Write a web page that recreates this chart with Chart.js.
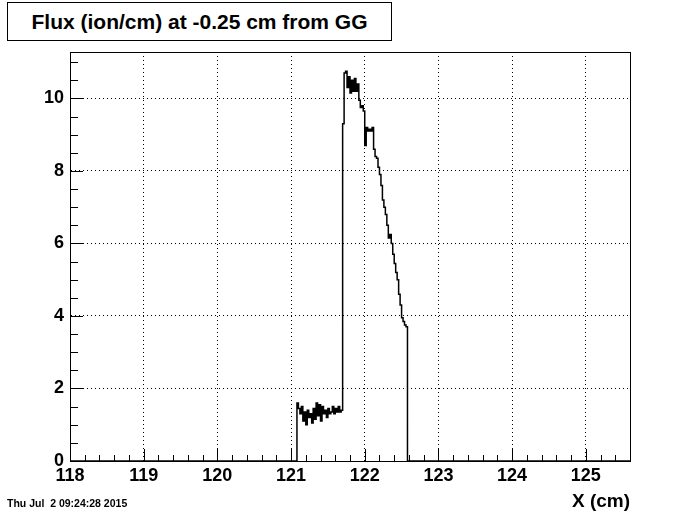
<!DOCTYPE html>
<html>
<head>
<meta charset="utf-8">
<script src="https://cdn.jsdelivr.net/npm/chart.js@4.4.0/dist/chart.umd.min.js"></script>
<style>
  body { margin: 0; background: #fff; }
  #wrap { position: relative; width: 700px; height: 514px; }
  #titlebox {
    position: absolute; left: 7px; top: 2px; width: 383px; height: 37px;
    border: 1px solid #000; background: #fff;
    font: bold 21px "Liberation Sans", Arial, sans-serif;
    text-align: center; line-height: 38px;
  }
  #stamp {
    position: absolute; left: 7px; top: 497px;
    font: bold 10.5px "Liberation Sans", Arial, sans-serif;
  }
</style>
</head>
<body>
<div id="wrap">
  <canvas id="flux-ctx" width="700" height="514"></canvas>
  <div id="titlebox">Flux (ion/cm) at -0.25 cm from GG</div>
  <div id="stamp">Thu Jul&nbsp; 2 09:24:28 2015</div>
</div>
<script>
// DATA
const X_MIN = 118;
const X_MAX = 125.6;
const Y_MAX = 11.28;
const X_TICKS = [118, 119, 120, 121, 122, 123, 124, 125];
const Y_TICKS = [0, 2, 4, 6, 8, 10];

// histogram: first filled bin low edge, bin width, contents
const BIN_START = 121.08;
const BIN_WIDTH = 0.02;
const FLUX = [
  1.6, 1.45, 1.3, 1.5, 1.1, 1.35, 1.0, 1.4, 1.2, 1.3,
  1.05, 1.45, 1.15, 1.6, 1.25, 1.55, 1.1, 1.5, 1.3, 1.4,
  1.2, 1.45, 1.3, 1.35, 1.5, 1.3, 1.45, 1.35, 1.5, 1.35,
  1.4, 9.3, 10.7, 10.75, 10.3, 10.6, 10.15, 10.5, 10.2, 10.55,
  10.2, 10.4, 9.95, 9.75, 9.8, 9.65, 8.7, 9.2, 9.1, 9.15,
  9.1, 9.2, 8.6, 8.4, 8.35, 8.1, 7.9, 7.6, 7.2, 7.0,
  6.8, 6.5, 6.15, 6.25, 6.0, 5.7, 5.45, 5.2, 5.0, 4.6,
  4.3, 3.95, 3.85, 3.75, 3.7
];

const points = [{x: X_MIN, y: 0}];
FLUX.forEach((v, i) => {
  points.push({x: BIN_START + i * BIN_WIDTH, y: v});
});
points.push({x: BIN_START + FLUX.length * BIN_WIDTH, y: 0});
points.push({x: X_MAX, y: 0});

Chart.defaults.font.family = '"Liberation Sans", Arial, sans-serif';
Chart.defaults.color = '#000';

// frame + inner ticks, like ROOT
const rootFrame = {
  id: 'rootFrame',
  afterDraw(chart) {
    const {ctx, chartArea: a, scales: {x, y}} = chart;
    ctx.save();
    ctx.strokeStyle = '#000';
    ctx.lineWidth = 1;
    ctx.beginPath();
    for (let v = X_MIN; v <= X_MAX + 1e-6; v += 0.2) {
      const px = Math.round(x.getPixelForValue(v)) + 0.5;
      const major = Math.abs(v - Math.round(v)) < 1e-6;
      ctx.moveTo(px, a.bottom);
      ctx.lineTo(px, a.bottom - (major ? 12 : 6));
    }
    for (let v = 0; v <= Y_MAX + 1e-6; v += 0.5) {
      const py = Math.round(y.getPixelForValue(v)) + 0.5;
      const major = Math.abs(v / 2 - Math.round(v / 2)) < 1e-6;
      ctx.moveTo(a.left, py);
      ctx.lineTo(a.left + (major ? 13 : 8), py);
    }
    ctx.stroke();
    ctx.strokeRect(Math.round(a.left) + 0.5, Math.round(a.top) + 0.5,
      Math.round(a.right - a.left), Math.round(a.bottom - a.top));
    ctx.restore();
  }
};

new Chart(document.getElementById('flux-ctx'), {
  type: 'line',
  data: {
    datasets: [{
      label: 'Flux',
      data: points,
      stepped: 'before',
      borderColor: '#000',
      borderWidth: 1.5,
      pointRadius: 0,
      fill: false
    }]
  },
  options: {
    responsive: false,
    animation: false,
    layout: {padding: {left: 0, right: 70, top: 52, bottom: 0}},
    plugins: {legend: {display: false}, tooltip: {enabled: false}},
    scales: {
      x: {
        type: 'linear',
        min: X_MIN,
        max: X_MAX,
        afterFit: (s) => { s.height = 53; },
        afterBuildTicks: (s) => { s.ticks = X_TICKS.map(v => ({value: v})); },
        ticks: {
          font: {size: 18, weight: 'bold'},
          padding: 4,
          maxRotation: 0,
          callback: (v) => v
        },
        grid: {color: '#000', drawTicks: false, lineWidth: 1},
        border: {display: true, color: '#000', width: 1, dash: [1, 3]},
        title: {
          display: true,
          text: 'X (cm)',
          align: 'end',
          font: {size: 19, weight: 'bold'},
          padding: {top: 0, bottom: 1}
        }
      },
      y: {
        min: 0,
        max: Y_MAX,
        afterFit: (s) => { s.width = 70; },
        afterBuildTicks: (s) => { s.ticks = Y_TICKS.map(v => ({value: v})); },
        ticks: {
          font: {size: 18, weight: 'bold'},
          padding: 6,
          callback: (v) => v
        },
        grid: {color: '#000', drawTicks: false, lineWidth: 1},
        border: {display: true, color: '#000', width: 1, dash: [1, 3]}
      }
    }
  },
  plugins: [rootFrame]
});
</script>
</body>
</html>
